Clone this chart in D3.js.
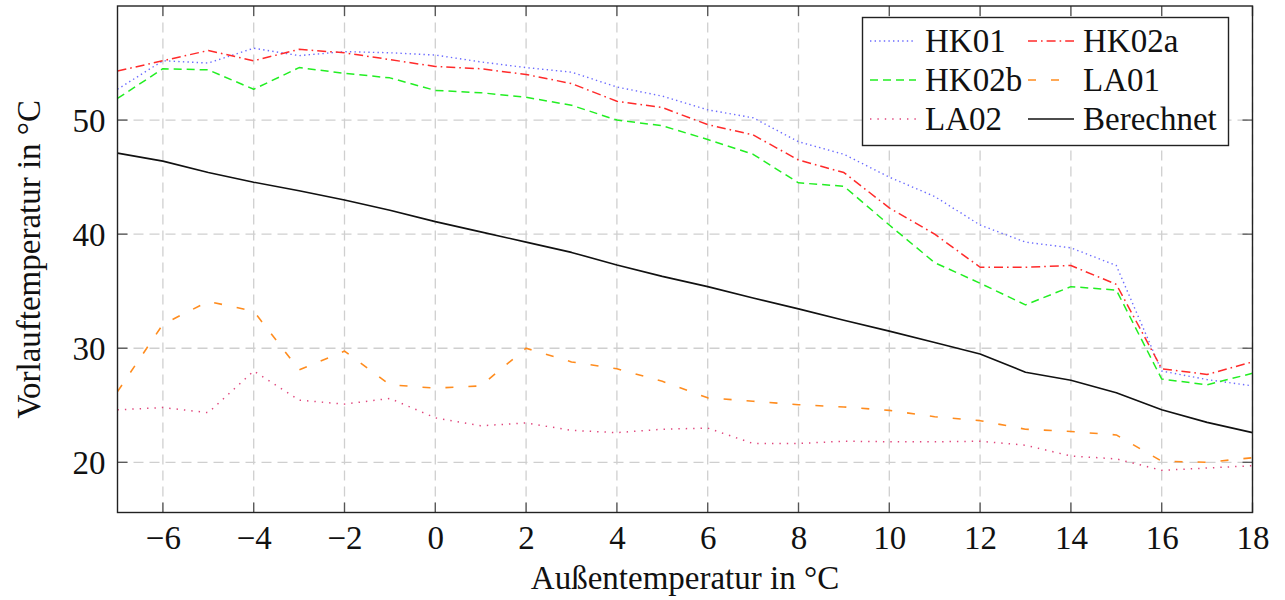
<!DOCTYPE html>
<html>
<head>
<meta charset="utf-8">
<script src="https://cdn.jsdelivr.net/npm/d3@7"></script>
<style>
  html, body { margin: 0; padding: 0; background: #fff; }
</style>
</head>
<body>
<svg id="chart" width="1285" height="600"></svg>
<script>
// Außentemperatur (°C) sampled in 1 K steps
const outdoor = [-7, -6, -5, -4, -3, -2, -1, 0, 1, 2, 3, 4, 5, 6, 7, 8, 9, 10, 11, 12, 13, 14, 15, 16, 17, 18];

// Measured supply temperatures per heating circuit
const hk01 = [52.7, 55.2, 55.0, 56.3, 55.65, 56.0, 55.9, 55.7, 55.1, 54.6, 54.2, 52.9, 52.1, 50.9, 50.2, 48.1, 47.0, 45.0, 43.3, 40.8, 39.3, 38.8, 37.25, 28.0, 27.25, 26.7];
const hk02a = [54.3, 55.2, 56.1, 55.2, 56.2, 55.9, 55.3, 54.7, 54.5, 54.0, 53.2, 51.65, 51.1, 49.6, 48.7, 46.5, 45.4, 42.3, 40.0, 37.1, 37.1, 37.25, 35.6, 28.2, 27.7, 28.8];
const hk02b = [51.9, 54.5, 54.4, 52.7, 54.6, 54.1, 53.7, 52.6, 52.4, 52.0, 51.3, 50.0, 49.5, 48.3, 47.0, 44.5, 44.2, 40.8, 37.5, 35.7, 33.8, 35.4, 35.1, 27.3, 26.8, 27.8];
const la01 = [26.2, 32.1, 34.1, 33.25, 28.1, 29.75, 26.8, 26.5, 26.7, 30.0, 28.8, 28.2, 27.1, 25.65, 25.35, 25.05, 24.85, 24.55, 24.0, 23.65, 22.9, 22.7, 22.4, 20.1, 20.0, 20.4];
const la02 = [24.6, 24.8, 24.35, 28.0, 25.45, 25.1, 25.6, 23.9, 23.2, 23.45, 22.8, 22.6, 22.9, 23.0, 21.65, 21.65, 21.85, 21.8, 21.8, 21.85, 21.5, 20.55, 20.3, 19.3, 19.5, 19.7];
// Heating curve (calculated)
const berechnet = [47.1, 46.4, 45.4, 44.55, 43.8, 43.0, 42.1, 41.1, 40.2, 39.3, 38.4, 37.3, 36.3, 35.4, 34.4, 33.45, 32.45, 31.5, 30.5, 29.5, 27.9, 27.2, 26.1, 24.6, 23.5, 22.6];

const seriesNames = ["HK01", "HK02a", "HK02b", "LA01", "LA02", "Berechnet"];
const xTicks = [-6, -4, -2, 0, 2, 4, 6, 8, 10, 12, 14, 16, 18];
const yTicks = [20, 30, 40, 50];

const styles = {
  HK01:      { color: "#6b6bff", dash: "1.4,3.2", width: 1.4 },
  HK02a:     { color: "#ff2a2a", dash: "9,4,1.6,4", width: 1.5 },
  HK02b:     { color: "#22ee22", dash: "8,5", width: 1.5 },
  LA01:      { color: "#ff8c1e", dash: "8,15", width: 1.6 },
  LA02:      { color: "#e0457c", dash: "1.4,6", width: 1.5 },
  Berechnet: { color: "#111111", dash: null, width: 1.6 }
};

const valuesByName = { HK01: hk01, HK02a: hk02a, HK02b: hk02b, LA01: la01, LA02: la02, Berechnet: berechnet };

const FONT = "'Liberation Serif', 'Times New Roman', Tinos, Times, 'DejaVu Serif', serif";
const fs = 33;

const svg = d3.select("#chart").style("font-family", FONT);
const W = 1285, H = 600;
const margin = { left: 117.5, right: W - 1252.5, top: 6, bottom: H - 512.5 };

const all = seriesNames.flatMap(n => valuesByName[n]);
const [lo, hi] = d3.extent(all);
const pad = (hi - lo) * 0.1;

const x = d3.scaleLinear().domain([d3.min(outdoor), d3.max(outdoor)]).range([margin.left, W - margin.right]);
const y = d3.scaleLinear().domain([lo - pad, hi + pad]).range([H - margin.bottom, margin.top]);

// grid
const grid = svg.append("g").attr("stroke", "#cfcfcf").attr("stroke-width", 1.3).attr("stroke-dasharray", "10,6");
grid.selectAll("line.v").data(xTicks).join("line")
  .attr("x1", d => x(d)).attr("x2", d => x(d))
  .attr("y1", y.range()[0]).attr("y2", y.range()[1]);
grid.selectAll("line.h").data(yTicks).join("line")
  .attr("y1", d => y(d)).attr("y2", d => y(d))
  .attr("x1", x.range()[0]).attr("x2", x.range()[1]);

// inner tick marks on all four sides
const tickLen = 10;
const ticks = svg.append("g").attr("stroke", "#555").attr("stroke-width", 1.3);
xTicks.forEach(t => {
  ticks.append("line").attr("x1", x(t)).attr("x2", x(t)).attr("y1", y.range()[0]).attr("y2", y.range()[0] - tickLen);
  ticks.append("line").attr("x1", x(t)).attr("x2", x(t)).attr("y1", y.range()[1]).attr("y2", y.range()[1] + tickLen);
});
yTicks.forEach(t => {
  ticks.append("line").attr("y1", y(t)).attr("y2", y(t)).attr("x1", x.range()[0]).attr("x2", x.range()[0] + tickLen);
  ticks.append("line").attr("y1", y(t)).attr("y2", y(t)).attr("x1", x.range()[1]).attr("x2", x.range()[1] - tickLen);
});

// series lines
const line = d3.line().x((d, i) => x(outdoor[i])).y(d => y(d));
const plot = svg.append("g");
seriesNames.forEach(n => {
  const s = styles[n];
  plot.append("path")
    .datum(valuesByName[n])
    .attr("fill", "none")
    .attr("stroke", s.color)
    .attr("stroke-width", s.width)
    .attr("stroke-dasharray", s.dash)
    .attr("stroke-linejoin", "round")
    .attr("d", line);
});

// frame
svg.append("rect")
  .attr("x", x.range()[0]).attr("y", y.range()[1])
  .attr("width", x.range()[1] - x.range()[0]).attr("height", y.range()[0] - y.range()[1])
  .attr("fill", "none").attr("stroke", "#222").attr("stroke-width", 1.4);

// tick labels
const xAxis = d3.axisBottom(x).tickValues(xTicks).tickSize(0).tickPadding(0)
  .tickFormat(d => d < 0 ? "\u2212" + Math.abs(d) : String(d));
const gx = svg.append("g").attr("transform", `translate(0,${y.range()[0]})`).call(xAxis)
  .attr("font-family", null).attr("font-size", null);
gx.select(".domain").remove();
gx.selectAll("text").attr("dy", null).attr("y", 36)
  .style("font-family", FONT).style("font-size", fs + "px").attr("fill", "#111");

const yAxis = d3.axisLeft(y).tickValues(yTicks).tickSize(0).tickPadding(0);
const gy = svg.append("g").attr("transform", `translate(${x.range()[0]},0)`).call(yAxis)
  .attr("font-family", null).attr("font-size", null);
gy.select(".domain").remove();
gy.selectAll("text").attr("x", -12).attr("dy", "0.34em")
  .style("font-family", FONT).style("font-size", fs + "px").attr("fill", "#111");

// axis titles
svg.append("text").attr("x", (x.range()[0] + x.range()[1]) / 2).attr("y", 589)
  .attr("text-anchor", "middle").style("font-family", FONT).style("font-size", fs + "px")
  .attr("fill", "#111").text("Außentemperatur in °C");
svg.append("text").attr("transform", `translate(40,${(y.range()[0] + y.range()[1]) / 2}) rotate(-90)`)
  .attr("text-anchor", "middle").style("font-family", FONT).style("font-size", fs + "px")
  .attr("fill", "#111").text("Vorlauftemperatur in °C");

// legend, two columns
const legend = svg.append("g");
legend.append("rect").attr("x", 862.5).attr("y", 17.5).attr("width", 366).attr("height", 128)
  .attr("fill", "#fff").attr("stroke", "#222").attr("stroke-width", 1.4);
const colX = [870, 1028];
const rowY = [41, 80, 119];
seriesNames.forEach((n, i) => {
  const s = styles[n];
  const cx = colX[i % 2], cy = rowY[Math.floor(i / 2)];
  legend.append("line").attr("x1", cx).attr("x2", cx + 46).attr("y1", cy).attr("y2", cy)
    .attr("stroke", s.color).attr("stroke-width", s.width).attr("stroke-dasharray", s.dash);
  legend.append("text").attr("x", cx + 55).attr("y", cy + 11)
    .style("font-family", FONT).style("font-size", fs + "px").attr("fill", "#111").text(n);
});
</script>
</body>
</html>
